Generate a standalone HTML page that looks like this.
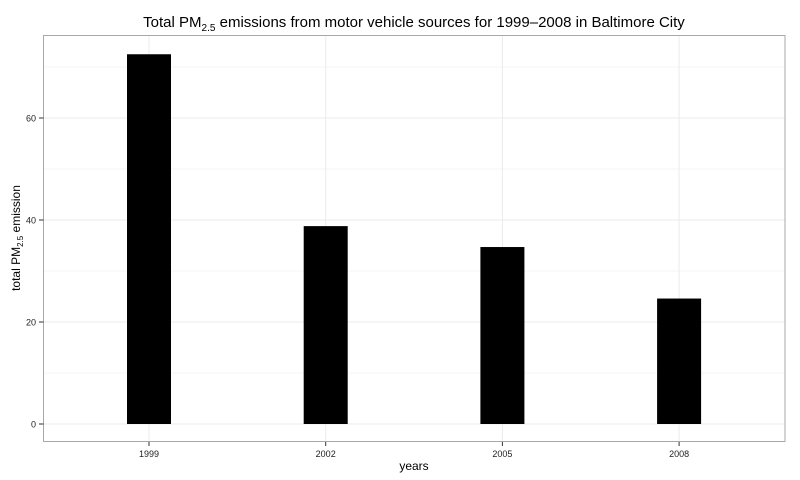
<!DOCTYPE html>
<html><head><meta charset="utf-8"><style>
html,body{margin:0;padding:0;background:#fff;}
svg{display:block;font-family:"Liberation Sans",Arial,sans-serif;}
</style></head><body>
<svg id="chart" width="800" height="480" viewBox="0 0 800 480">
<text x="414" y="27" font-size="15" text-anchor="middle" fill="#000">Total PM<tspan font-size="10" dy="4">2.5</tspan><tspan dy="-4"> emissions from motor vehicle sources for 1999–2008 in Baltimore City</tspan></text>
<g id="grid"></g>
<g id="bars"></g>
<rect x="43.5" y="35.5" width="741.5" height="406" fill="none" stroke="#a8a8a8" stroke-width="1"/>
<g id="axes"></g>
<text x="414" y="470" font-size="12" text-anchor="middle">years</text>
<text transform="translate(20,238) rotate(-90)" font-size="12" text-anchor="middle">total PM<tspan font-size="8" dy="3">2.5</tspan><tspan dy="-3"> emission</tspan></text>
</svg>
<script>
const categories=["1999","2002","2005","2008"];
const values=[72.5,38.8,34.7,24.6];
const yTicks=[0,20,40,60];
const yMinor=[10,30,50,70];
const NS="http://www.w3.org/2000/svg";
const y0=424,pxPerUnit=5.1;
function yScale(v){return y0-v*pxPerUnit;}
function xScale(i){return 149+i*176.7;}
const bw=44;
const grid=document.getElementById('grid'),bars=document.getElementById('bars'),axes=document.getElementById('axes');
function mk(tag,attrs,parent){const e=document.createElementNS(NS,tag);for(const k in attrs)e.setAttribute(k,attrs[k]);parent.appendChild(e);return e;}
yMinor.forEach(v=>{const l=mk('line',{x1:44,x2:785,y1:yScale(v),y2:yScale(v),stroke:'#f4f4f4','stroke-width':1},grid);

});
yTicks.forEach(v=>{const l=mk('line',{x1:44,x2:785,y1:yScale(v),y2:yScale(v),stroke:'#ebebeb','stroke-width':1},grid);


const t=mk('line',{x1:39,x2:43.5,y1:yScale(v),y2:yScale(v),stroke:'#333','stroke-width':1},axes);


const tx=mk('text',{x:36,y:yScale(v)+3.5,'font-size':9,'text-anchor':'end',fill:'#222'},axes);tx.textContent=v;

});
categories.forEach((c,i)=>{const x=xScale(i);
const g=mk('line',{x1:x,x2:x,y1:36,y2:441,stroke:'#ebebeb','stroke-width':1},grid);


const r=mk('rect',{x:x-bw/2,y:yScale(values[i]),width:bw,height:y0-yScale(values[i]),fill:'#000'},bars);


const t=mk('line',{x1:x,x2:x,y1:442,y2:446,stroke:'#333','stroke-width':1},axes);


const tx=mk('text',{x:x,y:457,'font-size':9,'text-anchor':'middle',fill:'#222'},axes);tx.textContent=c;

});
</script>
</body></html>
